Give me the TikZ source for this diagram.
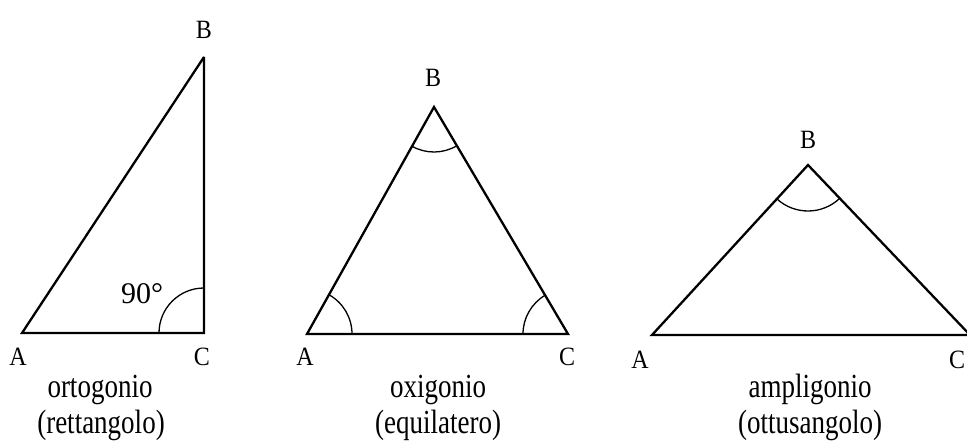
\documentclass[tikz,border=0pt]{standalone}
\usepackage{fontspec}
\setmainfont{Liberation Serif}
\usetikzlibrary{angles}
\newcommand{\tallcap}[1]{\scalebox{1}[1.25]{#1}}
\newcommand{\tallvl}[1]{\scalebox{1}[1.1]{#1}}
\begin{document}
\begin{tikzpicture}[x=1pt,y=-1pt,
  tri/.style={draw=black,line width=2.3pt,line join=miter,miter limit=3},
  arcmark/.style={draw=black,line width=1.3pt,angle radius=45pt},
  vlabel/.style={font=\fontsize{24}{24}\selectfont,inner sep=0pt},
  caption/.style={font=\fontsize{27}{27}\selectfont,inner sep=0pt,anchor=base}]
\useasboundingbox (0,0) rectangle (967,442);
% triangle 1
\coordinate (A1) at (22,333);
\coordinate (C1) at (204,333);
\coordinate (B1) at (204,57);
\draw[tri] (A1) -- (C1) -- (B1) -- cycle;
\pic[arcmark] {angle = B1--C1--A1};
\node[font=\fontsize{30}{30}\selectfont,inner sep=0pt] (n90) at (142,294) {90°};
\node[vlabel] (lB1) at (204,30) {\tallvl{B}};
\node[vlabel] (lA1) at (18,357) {\tallvl{A}};
\node[vlabel] (lC1) at (202,357) {\tallvl{C}};
\node[caption] (t1a) at (100,397) {\tallcap{ortogonio}};
\node[caption] (t1b) at (101,433) {\tallcap{(rettangolo)}};
% triangle 2
\coordinate (A2) at (307,334);
\coordinate (C2) at (568,334);
\coordinate (B2) at (434,107);
\draw[tri] (A2) -- (C2) -- (B2) -- cycle;
\pic[arcmark] {angle = C2--A2--B2};
\pic[arcmark] {angle = B2--C2--A2};
\pic[arcmark] {angle = A2--B2--C2};
\node[vlabel] (lB2) at (433,78) {\tallvl{B}};
\node[vlabel] (lA2) at (305,357) {\tallvl{A}};
\node[vlabel] (lC2) at (567,357) {\tallvl{C}};
\node[caption] (t2a) at (438,397) {\tallcap{oxigonio}};
\node[caption] (t2b) at (438,433) {\tallcap{(equilatero)}};
% triangle 3
\coordinate (A3) at (652,335);
\coordinate (C3) at (970,335);
\coordinate (B3) at (808,165);
\draw[tri] (A3) -- (C3) -- (B3) -- cycle;
\pic[arcmark,angle radius=46pt] {angle = A3--B3--C3};
\node[vlabel] (lB3) at (808,140) {\tallvl{B}};
\node[vlabel] (lA3) at (640,360) {\tallvl{A}};
\node[vlabel] (lC3) at (957,360) {\tallvl{C}};
\node[caption] (t3a) at (810,397) {\tallcap{ampligonio}};
\node[caption] (t3b) at (810,433) {\tallcap{(ottusangolo)}};
\end{tikzpicture}
\end{document}
